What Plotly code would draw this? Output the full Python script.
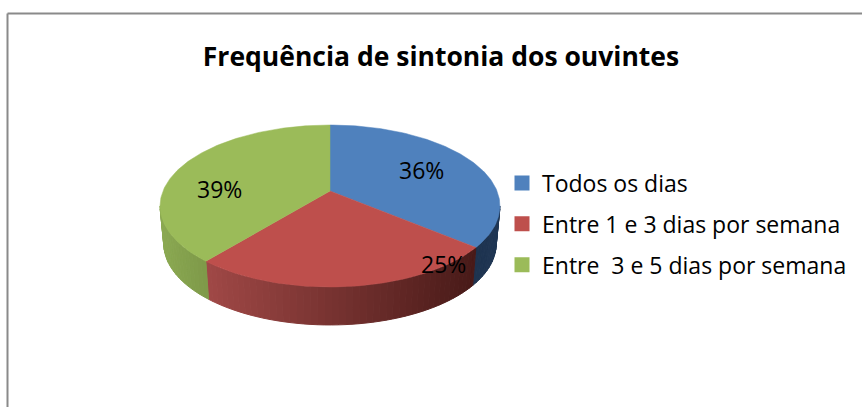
import math
import plotly.graph_objects as go

categories = ["Todos os dias", "Entre 1 e 3 dias por semana", "Entre  3 e 5 dias por semana"]
percent_values = [36, 25, 39]
title_text = "Frequência de sintonia dos ouvintes"

top_colors = ["#4F81BD", "#BE4F4C", "#9BBB59"]
wall_stops = [["#1E334F", "#1F3654"], ["#A04846", "#481A18"], ["#8BA952", "#7E9949"]]
label_positions = [(421, 170), (443, 264), (219, 189)]

W, H = 862, 407
CX, AY = 330, 191        # apex of the pie on the page
A, B, K = 167.0, 78.2, 0.185   # perspective of the disc
DEPTH = 38
BOTTOM_SHRINK = 0.978
FONT = "Open Sans"


def project(theta):
    u, v = math.sin(theta), math.cos(theta)
    w = 1 + K * v
    return CX + A * u / w, AY - B * v / w


def project_bottom(theta):
    x, y = project(theta)
    return CX + (x - CX) * BOTTOM_SHRINK, y + DEPTH


def arc(start, end, step_deg=1.0):
    n = max(2, int(abs(end - start) / math.radians(step_deg)) + 1)
    return [start + (end - start) * i / (n - 1) for i in range(n)]


def mix(c1, c2, t):
    a = [int(c1[i:i + 2], 16) for i in (1, 3, 5)]
    b = [int(c2[i:i + 2], 16) for i in (1, 3, 5)]
    return "#" + "".join(f"{round(p + (q - p) * t):02x}" for p, q in zip(a, b))


total = sum(percent_values)
edges = [0.0]
for value in percent_values:
    edges.append(edges[-1] + value / total * 2 * math.pi)

# visible part of the side wall: between the two silhouette points
wall_from = math.acos(-K)
wall_to = 2 * math.pi - wall_from

fig = go.Figure()

# side walls, as narrow strips so that they carry a horizontal gradient
for i in range(len(percent_values)):
    a0, a1 = max(edges[i], wall_from), min(edges[i + 1], wall_to)
    if a1 <= a0:
        continue
    x_left, x_right = sorted([project(a0)[0], project(a1)[0]])
    angles = arc(a0, a1, 2.0)
    for t0, t1 in zip(angles[:-1], angles[1:]):
        seg = arc(t0, t1, 0.5)
        top = [project(t) for t in seg]
        bottom = [project_bottom(t) for t in reversed(seg)]
        pts = top + bottom
        xm = (top[0][0] + top[-1][0]) / 2
        frac = (xm - x_left) / max(x_right - x_left, 1)
        col = mix(wall_stops[i][0], wall_stops[i][1], frac)
        fig.add_trace(go.Scatter(
            x=[p[0] for p in pts] + [pts[0][0]], y=[p[1] for p in pts] + [pts[0][1]],
            mode="lines", fill="toself", fillcolor=col, line=dict(color=col, width=1),
            showlegend=False, hoverinfo="skip"))

# top faces of the slices
for i, name in enumerate(categories):
    pts = [(CX, AY)] + [project(t) for t in arc(edges[i], edges[i + 1])] + [(CX, AY)]
    fig.add_trace(go.Scatter(
        x=[p[0] for p in pts], y=[p[1] for p in pts], mode="lines", fill="toself",
        fillcolor=top_colors[i], line=dict(color=top_colors[i], width=0.5),
        showlegend=False, name=name, hoverinfo="name"))

# legend entries
for i, name in enumerate(categories):
    fig.add_trace(go.Scatter(
        x=[None], y=[None], mode="markers", name=name, legendgroup=str(i),
        marker=dict(symbol="square", size=15, color=top_colors[i])))

annotations = [
    dict(x=pos[0], y=pos[1], text=f"{value}%", showarrow=False,
         font=dict(family=FONT, size=23, color="#000000"))
    for pos, value in zip(label_positions, percent_values)
]

frame = dict(color="#8A8A8A", width=2)
shapes = [
    dict(type="line", xref="x", yref="y", x0=7.5, x1=7.5, y0=13.5, y1=H, line=frame, layer="below"),
    dict(type="line", xref="x", yref="y", x0=7.5, x1=W, y0=13.5, y1=13.5, line=frame, layer="below"),
]

fig.update_layout(
    width=W, height=H, margin=dict(l=0, r=0, t=0, b=0),
    paper_bgcolor="#FFFFFF", plot_bgcolor="#FFFFFF",
    title=dict(text=f"<b>{title_text}</b>", x=441 / W, xanchor="center",
               y=1 - 57 / H, yanchor="middle",
               font=dict(family=FONT, size=26.5, color="#000000")),
    xaxis=dict(range=[0, W], visible=False, fixedrange=True),
    yaxis=dict(range=[H, 0], visible=False, fixedrange=True),
    legend=dict(x=(522 - 20) / W, xanchor="left", y=1 - 161.5 / H, yanchor="top",
                font=dict(family=FONT, size=23, color="#000000"),
                tracegroupgap=8, bgcolor="rgba(0,0,0,0)", borderwidth=0),
    showlegend=True, annotations=annotations, shapes=shapes,
)

fig.write_html("out.html", config={"displayModeBar": False},
               post_script="document.body.style.margin='0';document.documentElement.style.overflow='hidden';")
